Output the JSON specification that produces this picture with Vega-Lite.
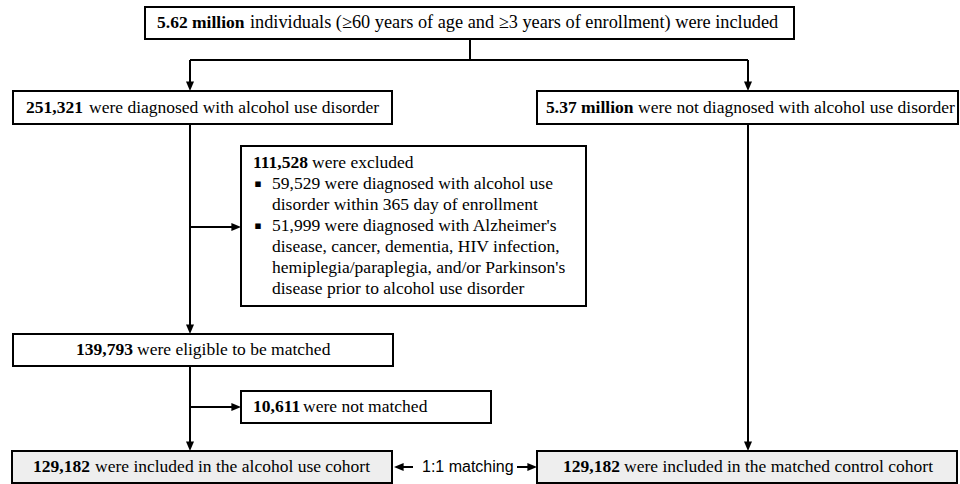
{
  "$schema": "https://vega.github.io/schema/vega-lite/v6.json",
  "width": 960,
  "height": 484,
  "padding": 0,
  "autosize": {"type": "none"},
  "background": "white",
  "config": {"view": {"stroke": null}},
  "datasets": {
    "boxes": [
      {"x1": 145, "x2": 794, "y1": 7, "y2": 39, "kind": "step"},
      {"x1": 13, "x2": 392, "y1": 91, "y2": 124, "kind": "step"},
      {"x1": 537, "x2": 958, "y1": 91, "y2": 124, "kind": "step"},
      {"x1": 241, "x2": 586, "y1": 146, "y2": 306, "kind": "step"},
      {"x1": 13, "x2": 393, "y1": 334, "y2": 366, "kind": "step"},
      {"x1": 241, "x2": 491, "y1": 391, "y2": 423, "kind": "step"},
      {"x1": 12, "x2": 392, "y1": 451, "y2": 483, "kind": "cohort"},
      {"x1": 537, "x2": 957, "y1": 451, "y2": 483, "kind": "cohort"}
    ],
    "lines": [
      {"x1": 470, "y1": 39, "x2": 470, "y2": 60},
      {"x1": 190, "y1": 60, "x2": 748, "y2": 60},
      {"x1": 190, "y1": 60, "x2": 190, "y2": 88},
      {"x1": 748, "y1": 60, "x2": 748, "y2": 88},
      {"x1": 190, "y1": 124, "x2": 190, "y2": 331},
      {"x1": 190, "y1": 227, "x2": 238, "y2": 227},
      {"x1": 190, "y1": 366, "x2": 190, "y2": 448},
      {"x1": 190, "y1": 407, "x2": 238, "y2": 407},
      {"x1": 748, "y1": 124, "x2": 748, "y2": 448},
      {"x1": 397, "y1": 467, "x2": 413, "y2": 467},
      {"x1": 517, "y1": 467, "x2": 534, "y2": 467}
    ],
    "arrows": [
      {"x": 190, "y": 91, "dir": "down"},
      {"x": 748, "y": 91, "dir": "down"},
      {"x": 190, "y": 334, "dir": "down"},
      {"x": 241, "y": 227, "dir": "right"},
      {"x": 190, "y": 451, "dir": "down"},
      {"x": 241, "y": 407, "dir": "right"},
      {"x": 748, "y": 451, "dir": "down"},
      {"x": 394, "y": 467, "dir": "left"},
      {"x": 537, "y": 467, "dir": "right"}
    ],
    "texts": [
      {"x": 157, "y": 23, "part": "bold", "text": "5.62 million"},
      {"x": 250, "y": 23, "part": "wide", "text": "individuals (≥60 years of age and ≥3 years of enrollment) were included"},
      {"x": 26, "y": 108, "part": "bold", "text": "251,321"},
      {"x": 89, "y": 108, "part": "plain", "text": "were diagnosed with alcohol use disorder"},
      {"x": 546, "y": 108, "part": "bold", "text": "5.37 million"},
      {"x": 638, "y": 108, "part": "plain", "text": "were not diagnosed with alcohol use disorder"},
      {"x": 253, "y": 163, "part": "bold", "text": "111,528"},
      {"x": 312, "y": 163, "part": "plain", "text": "were excluded"},
      {"x": 258, "y": 184, "part": "bullet", "text": "▪"},
      {"x": 272, "y": 184, "part": "plain", "text": "59,529 were diagnosed with alcohol use"},
      {"x": 272, "y": 205, "part": "plain", "text": "disorder within 365 day of enrollment"},
      {"x": 258, "y": 226, "part": "bullet", "text": "▪"},
      {"x": 272, "y": 226, "part": "plain", "text": "51,999 were diagnosed with Alzheimer's"},
      {"x": 272, "y": 247, "part": "plain", "text": "disease, cancer, dementia, HIV infection,"},
      {"x": 272, "y": 268, "part": "plain", "text": "hemiplegia/paraplegia, and/or Parkinson's"},
      {"x": 272, "y": 289, "part": "plain", "text": "disease prior to alcohol use disorder"},
      {"x": 76, "y": 350, "part": "bold", "text": "139,793"},
      {"x": 137, "y": 350, "part": "plain", "text": "were eligible to be matched"},
      {"x": 253, "y": 407, "part": "bold", "text": "10,611"},
      {"x": 303, "y": 407, "part": "plain", "text": "were not matched"},
      {"x": 33, "y": 467, "part": "bold", "text": "129,182"},
      {"x": 95, "y": 467, "part": "plain", "text": "were included in the alcohol use cohort"},
      {"x": 563, "y": 467, "part": "bold", "text": "129,182"},
      {"x": 624, "y": 467, "part": "plain", "text": "were included in the matched control cohort"},
      {"x": 422, "y": 467, "part": "sans", "text": "1:1 matching"}
    ]
  },
  "layer": [
    {
      "data": {"name": "lines"},
      "mark": {"type": "rule", "color": "black", "strokeWidth": 2},
      "encoding": {
        "x": {"field": "x1", "type": "quantitative", "scale": {"domain": [0, 960], "nice": false, "zero": false}, "axis": null},
        "y": {"field": "y1", "type": "quantitative", "scale": {"domain": [0, 484], "nice": false, "zero": false, "reverse": true}, "axis": null},
        "x2": {"field": "x2"},
        "y2": {"field": "y2"}
      }
    },
    {
      "data": {"name": "boxes"},
      "mark": {"type": "rect", "stroke": "black", "strokeWidth": 2},
      "encoding": {
        "x": {"field": "x1", "type": "quantitative", "axis": null},
        "x2": {"field": "x2"},
        "y": {"field": "y1", "type": "quantitative", "axis": null},
        "y2": {"field": "y2"},
        "fill": {"field": "kind", "type": "nominal", "scale": {"domain": ["step", "cohort"], "range": ["#ffffff", "#eeeeee"]}, "legend": null}
      }
    },
    {
      "data": {"name": "arrows"},
      "mark": {"type": "point", "filled": true, "color": "black", "size": 64, "opacity": 1, "strokeWidth": 0},
      "encoding": {
        "x": {"field": "x", "type": "quantitative", "axis": null},
        "y": {"field": "y", "type": "quantitative", "axis": null},
        "shape": {"field": "dir", "type": "nominal", "scale": {"domain": ["down", "right", "left"], "range": ["M-1,-2.4L1,-2.4L0,0Z", "M-2.4,-1L-2.4,1L0,0Z", "M2.4,-1L2.4,1L0,0Z"]}, "legend": null}
      }
    },
    {
      "data": {"name": "texts"},
      "transform": [{"filter": "datum.part === 'bold'"}],
      "mark": {"type": "text", "align": "left", "baseline": "middle", "font": "Liberation Serif", "fontSize": 17.5, "fontWeight": "bold", "color": "black"},
      "encoding": {
        "x": {"field": "x", "type": "quantitative", "axis": null},
        "y": {"field": "y", "type": "quantitative", "axis": null},
        "text": {"field": "text"}
      }
    },
    {
      "data": {"name": "texts"},
      "transform": [{"filter": "datum.part === 'plain'"}],
      "mark": {"type": "text", "align": "left", "baseline": "middle", "font": "Liberation Serif", "fontSize": 17.5, "color": "black"},
      "encoding": {
        "x": {"field": "x", "type": "quantitative", "axis": null},
        "y": {"field": "y", "type": "quantitative", "axis": null},
        "text": {"field": "text"}
      }
    },
    {
      "data": {"name": "texts"},
      "transform": [{"filter": "datum.part === 'wide'"}],
      "mark": {"type": "text", "align": "left", "baseline": "middle", "font": "Liberation Serif", "fontSize": 18.3, "color": "black"},
      "encoding": {
        "x": {"field": "x", "type": "quantitative", "axis": null},
        "y": {"field": "y", "type": "quantitative", "axis": null},
        "text": {"field": "text"}
      }
    },
    {
      "data": {"name": "texts"},
      "transform": [{"filter": "datum.part === 'bullet'"}],
      "mark": {"type": "text", "align": "center", "baseline": "middle", "font": "DejaVu Sans", "fontSize": 11, "color": "black"},
      "encoding": {
        "x": {"field": "x", "type": "quantitative", "axis": null},
        "y": {"field": "y", "type": "quantitative", "axis": null},
        "text": {"field": "text"}
      }
    },
    {
      "data": {"name": "texts"},
      "transform": [{"filter": "datum.part === 'sans'"}],
      "mark": {"type": "text", "align": "left", "baseline": "middle", "font": "Liberation Sans", "fontSize": 16, "color": "black"},
      "encoding": {
        "x": {"field": "x", "type": "quantitative", "axis": null},
        "y": {"field": "y", "type": "quantitative", "axis": null},
        "text": {"field": "text"}
      }
    }
  ]
}
